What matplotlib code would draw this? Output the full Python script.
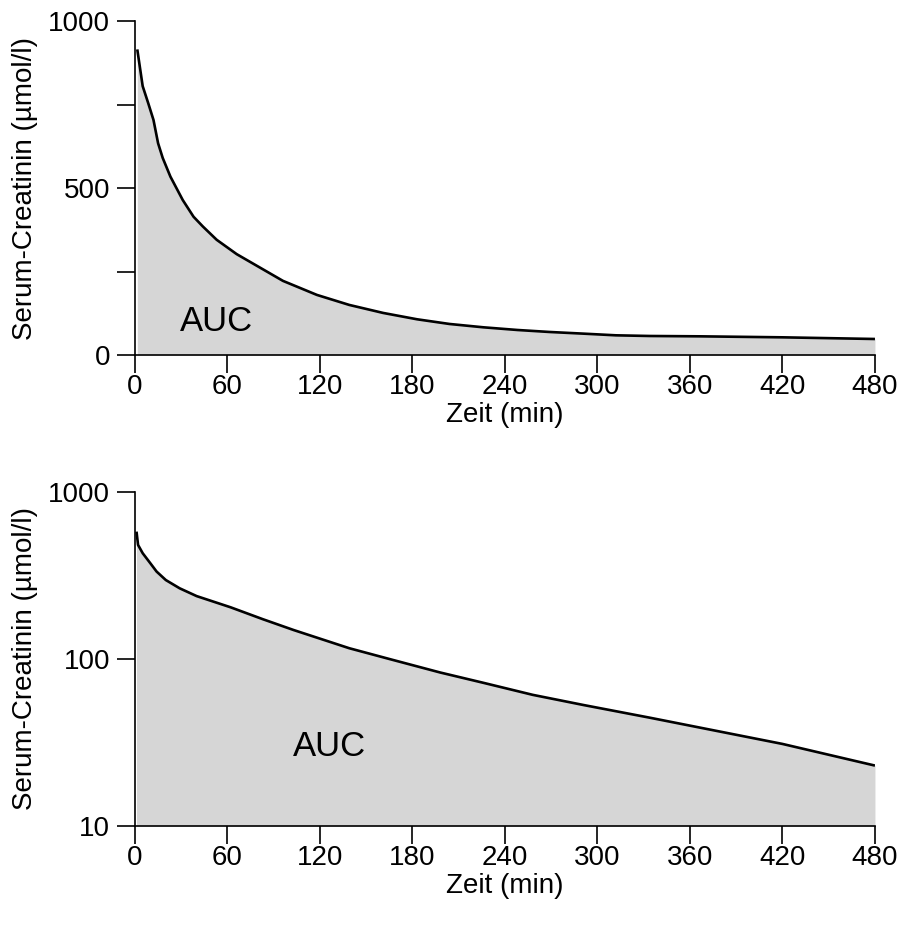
import matplotlib
matplotlib.use("Agg")
import matplotlib.pyplot as plt
from matplotlib.ticker import FixedLocator, FixedFormatter, NullLocator

plt.rcParams["font.family"] = ["Liberation Sans", "DejaVu Sans"]

# ---------- data ----------
t_lin = [1.5, 5, 8.6, 12, 15, 18, 23, 31, 38, 44, 53, 66, 81, 96, 118, 139, 161,
         183, 204, 226, 248, 269, 291, 312, 334, 366, 420, 480]
crea_lin = [915, 805, 754, 704, 634, 590, 534, 464, 414, 385, 345, 302, 262, 222,
            180, 150, 126, 107, 93, 83, 75, 69, 64, 59, 57, 56, 53, 48]

t_log = [1, 2, 5, 10, 14, 20, 29, 40, 62, 83, 103, 139, 165, 198, 226, 258, 291,
         334, 420, 480]
crea_log = [579, 482, 430, 374, 334, 297, 265, 238, 204, 173, 149, 116, 100, 83,
            72, 61, 53, 44.5, 31, 23]

x_ticks = [0, 60, 120, 180, 240, 300, 360, 420, 480]

FILL = "#d6d6d6"
LW = 1.9
FS = 20

fig = plt.figure(figsize=(9.01, 9.26), dpi=100)
ax1 = fig.add_axes([0.1498, 0.6166, 0.8213, 0.3607])
ax2 = fig.add_axes([0.1498, 0.1080, 0.8213, 0.3607])


def style(ax):
    for s in ("top", "right"):
        ax.spines[s].set_visible(False)
    for s in ("left", "bottom"):
        ax.spines[s].set_linewidth(1.2)
    ax.tick_params(axis="both", which="major", direction="out", length=13,
                   width=1.2, labelsize=FS)
    ax.tick_params(axis="y", pad=5)
    ax.tick_params(axis="x", pad=0.5)
    ax.set_xlim(0, 480)
    ax.set_xticks(x_ticks)
    ax.set_xlabel("Zeit (min)", fontsize=FS, labelpad=1.5)
    ax.set_ylabel("Serum-Creatinin (µmol/l)", fontsize=FS, labelpad=7)


# ---------- linear panel ----------
ax1.fill_between(t_lin, 0, crea_lin, color=FILL, lw=0)
ax1.plot(t_lin, crea_lin, color="black", lw=LW, solid_capstyle="butt")
ax1.set_ylim(0, 1000)
ax1.yaxis.set_major_locator(FixedLocator([0, 250, 500, 750, 1000]))
ax1.yaxis.set_major_formatter(FixedFormatter(["0", "", "500", "", "1000"]))
ax1.text(53, 100, "AUC", fontsize=25, ha="center", va="center")
style(ax1)

# ---------- log panel ----------
ax2.fill_between(t_log, 10, crea_log, color=FILL, lw=0)
ax2.plot(t_log, crea_log, color="black", lw=LW, solid_capstyle="butt")
ax2.set_yscale("log")
ax2.set_ylim(10, 1000)
ax2.yaxis.set_major_locator(FixedLocator([10, 100, 1000]))
ax2.yaxis.set_major_formatter(FixedFormatter(["10", "100", "1000"]))
ax2.yaxis.set_minor_locator(NullLocator())
ax2.text(126, 30, "AUC", fontsize=25, ha="center", va="center")
style(ax2)

fig.savefig("out.png", dpi=100)
